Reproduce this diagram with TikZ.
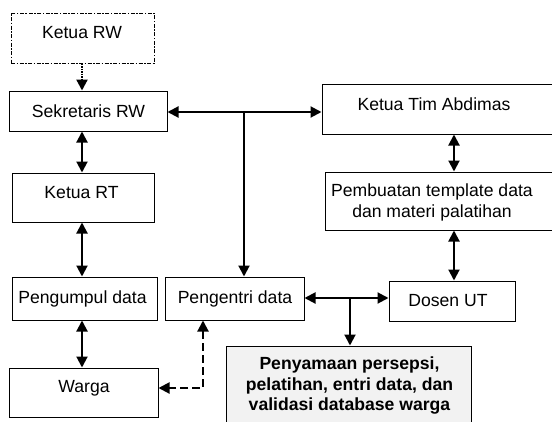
\documentclass[tikz,border=0pt]{standalone}
\usepackage{fontspec}
\setmainfont{Liberation Sans}
\usetikzlibrary{arrows.meta}
\begin{document}
\begin{tikzpicture}[x=1pt,y=-1pt,
  box/.style={draw=black,line width=1pt,inner sep=0pt,rectangle},
  txt/.style={inner sep=0pt,font=\fontsize{17.6}{20.5}\selectfont,text=black},
  conn/.style={line width=2pt,-{Triangle[length=11pt,width=11pt]}},
  dbl/.style={line width=2pt,{Triangle[length=11pt,width=11pt]}-{Triangle[length=11pt,width=11pt]}},
  plain/.style={line width=2pt}]
\useasboundingbox (0,0) rectangle (552,421);
% boxes
\node[box,minimum width=143pt,minimum height=50pt,dash pattern=on 4pt off 1.5pt on 1.5pt off 1.5pt] (krw) at (82.5,38) {};
\node[box,minimum width=158pt,minimum height=40pt] (srw) at (88,111) {};
\node[box,minimum width=142pt,minimum height=49pt] (krt) at (83,197.5) {};
\node[box,minimum width=145pt,minimum height=43pt] (peng) at (84.5,298.5) {};
\node[box,minimum width=149pt,minimum height=49pt] (warga) at (83.5,392.5) {};
\node[box,minimum width=139pt,minimum height=43pt] (entri) at (234.5,298.5) {};
\node[box,minimum width=126pt,minimum height=40pt] (dosen) at (452,301) {};
\node[box,minimum width=248pt,minimum height=50pt] (kta) at (446,109) {};
\node[box,minimum width=245pt,minimum height=58pt] (pemb) at (447.5,201) {};
\node[box,fill=black!5,minimum width=245pt,minimum height=94pt] (peny) at (348.5,393) {};
% texts
\node[txt,anchor=base] (tkrw) at (82,38) {Ketua RW};
\node[txt,anchor=base] (tsrw) at (88.5,117) {Sekretaris RW};
\node[txt,anchor=base] (tkrt) at (81.5,198) {Ketua RT};
\node[txt,anchor=base] (tpeng) at (82.5,303) {Pengumpul data};
\node[txt,anchor=base] (twarga) at (84,392) {Warga};
\node[txt,anchor=base] (tentri) at (235,303) {Pengentri data};
\node[txt,anchor=base] (tdosen) at (448,306) {Dosen UT};
\node[txt,anchor=base] (tkta) at (434,110) {Ketua Tim Abdimas};
\node[txt,anchor=north,align=center] (tpemb) at (432,184) {Pembuatan template data\\dan materi palatihan};
\node[txt,anchor=north,align=center,font=\fontsize{17.6}{20.5}\selectfont\bfseries] (tpeny) at (349.5,357) {Penyamaan persepsi,\\pelatihan, entri data, dan\\validasi database warga};
% helper coordinates
\coordinate (xl) at (82,0);
\coordinate (xa) at (454,0);
\coordinate (j1) at (244,112);
\coordinate (j2) at (350,298);
\coordinate (dc) at (203,388);
% connectors
\draw[conn,line width=2.2pt,dash pattern=on 1.5pt off 1pt] (krw.south -| xl) -- (srw.north -| xl);
\draw[dbl] (srw.south -| xl) -- (krt.north -| xl);
\draw[dbl] (krt.south -| xl) -- (peng.north -| xl);
\draw[dbl] (peng.south -| xl) -- (warga.north -| xl);
\draw[dbl] (srw.east |- j1) -- (kta.west |- j1);
\draw[conn] (j1) -- (entri.north -| j1);
\draw[dbl] (kta.south -| xa) -- (pemb.north -| xa);
\draw[dbl] (pemb.south -| xa) -- (dosen.north -| xa);
\draw[dbl] (entri.east |- j2) -- (dosen.west |- j2);
\draw[conn] (j2) -- (peny.north -| j2);
\draw[dbl,dash pattern=on 8pt off 4pt] (entri.south -| dc) -- (dc) -- (warga.east |- dc);
\end{tikzpicture}
\end{document}
